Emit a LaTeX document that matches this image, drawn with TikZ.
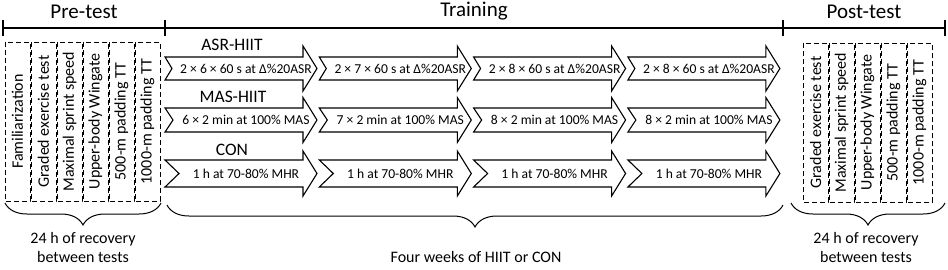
\documentclass[tikz,border=0pt]{standalone}
\usepackage{fontspec}
\setmainfont{Carlito}
\usetikzlibrary{positioning,calc,decorations.pathreplacing}

\begin{document}
\begin{tikzpicture}[
  x=1pt,y=-1pt,
  phase/.style={font=\fontsize{21}{24}\selectfont},
  timeline/.style={line width=2.4pt},
  testbox/.style={draw,line width=0.9pt,dash pattern=on 5pt off 3pt,rotate=90,
                  minimum width=159pt,minimum height=25pt,inner sep=0pt,
                  font=\fontsize{16}{18}\selectfont},
  armlabel/.style={font=\fontsize{17.5}{20}\selectfont},
  session/.style={font=\fontsize{13.6}{15}\selectfont,inner sep=0pt},
  sessionarrow/.style={draw,line width=1.1pt,line join=miter,fill=white},
  note/.style={font=\fontsize{16}{19}\selectfont,align=center},
  brace/.style={decorate,decoration={brace,amplitude=22pt},line width=1pt}
]
\useasboundingbox (0,0) rectangle (948,269);

% time line
\coordinate (t0) at (3,28);
\coordinate (t1) at (165,28);
\coordinate (t2) at (783,28);
\coordinate (t3) at (945,28);
\draw[timeline] (t0) -- (t3);
\foreach \t in {t0,t1,t2,t3}
  \draw[timeline] ($(\t)+(0,-8)$) -- ($(\t)+(0,8)$);
\node[phase] (pre)   at ($(t0)!0.5!(t1)+(0,-16)$) {Pre-test};
\node[phase] (train) at ($(t1)!0.5!(t2)+(0,-17)$) {Training};
\node[phase] (post)  at ($(t2)!0.5!(t3)+(0,-16)$) {Post-test};

% pre-test
\foreach \i/\txt in {0/Familiarization,1/Graded exercise test,2/Maximal sprint speed,
                     3/Upper-body Wingate,4/500-m padding TT,5/1000-m padding TT}
  \node[testbox] (pre\i) at (17.5+26*\i,121.5) {\txt};

% post-test
\foreach \i/\txt in {0/Graded exercise test,1/Maximal sprint speed,
                     2/Upper-body Wingate,3/500-m padding TT,4/1000-m padding TT}
  \node[testbox] (post\i) at (815.5+26*\i,122.5) {\txt};

% training arms
\node[armlabel] (asr) at (232,45)  {ASR-HIIT};
\node[armlabel] (mas) at (233,97)  {MAS-HIIT};
\node[armlabel] (con) at (232,150) {CON};

\foreach \arm/\yc/\hb/\nd/\list in {
    asr/68.5/11.5/7/{2 × 6 × 60 s at Δ\%20ASR,2 × 7 × 60 s at Δ\%20ASR,2 × 8 × 60 s at Δ\%20ASR,2 × 8 × 60 s at Δ\%20ASR},
    mas/120/12/8/{6 × 2 min at 100\% MAS,7 × 2 min at 100\% MAS,8 × 2 min at 100\% MAS,8 × 2 min at 100\% MAS},
    con/173.5/13.5/14/{1 h at 70-80\% MHR,1 h at 70-80\% MHR,1 h at 70-80\% MHR,1 h at 70-80\% MHR}}{
  \foreach \txt [count=\col from 0] in \list {
    \pgfmathsetmacro\xa{165+154.3*\col}
    \draw[sessionarrow] (\xa,\yc-\hb) -- (\xa+138,\yc-\hb) -- (\xa+138,\yc-22.5)
      -- (\xa+152,\yc) -- (\xa+138,\yc+22.5) -- (\xa+138,\yc+\hb)
      -- (\xa,\yc+\hb) -- (\xa+\nd,\yc) -- cycle;
    \node[session] (\arm\col) at (\xa+81,\yc) {\txt};
  }
}

% braces and notes
\draw[brace] (161,203) -- (5,203);
\draw[brace] (783,205) -- (167,205);
\draw[brace] (945,203) -- (791,203);
\node[note] (prenote)   at (83,247.5)  {24 h of recovery\\between tests};
\node[note] (trainnote) at (476,257)   {Four weeks of HIIT or CON};
\node[note] (postnote)  at (866,247.5) {24 h of recovery\\between tests};
\end{tikzpicture}
\end{document}
